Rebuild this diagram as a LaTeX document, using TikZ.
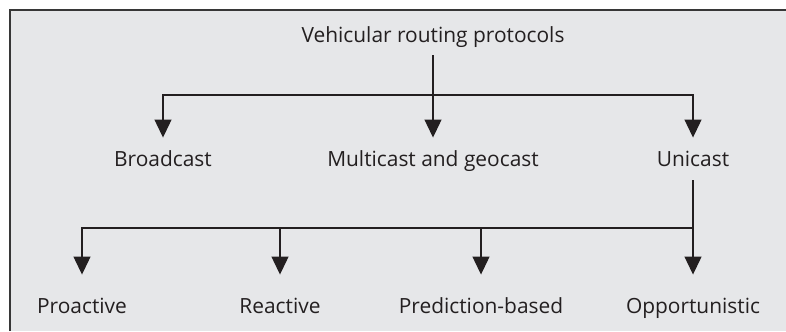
\documentclass[tikz,border=0pt]{standalone}
\usepackage{fontspec}
\setmainfont{Open Sans}
\definecolor{LineColor}{RGB}{35,31,32}
\definecolor{BoxColor}{RGB}{230,231,233}
\definecolor{FrameColor}{RGB}{55,55,55}
\usetikzlibrary{arrows.meta}
\tikzstyle{arrow} = [line width=0.7pt, LineColor, -{Triangle[width=0.34cm,length=0.36cm]}]
\tikzstyle{class} = [inner xsep=0pt, inner ysep=8pt, text height=8pt, text depth=0pt, anchor=base, text=LineColor, font=\fontsize{11.9}{14}\selectfont]

\begin{document}
\begin{tikzpicture}[x=0.02cm, y=-0.02cm]
                % Frame
                \useasboundingbox (0,0) rectangle (786,331);
                \fill[BoxColor] (10,10) rectangle (786,331);
                \draw[FrameColor, line width=0.6pt] (10,331) -- (10,10) -- (786,10);

                % Root
                \node[class, inner ysep=6.8pt] (root) at (433,43) {Vehicular routing protocols};

                % First level
                \node[class] (broadcast) at (163,166) {Broadcast};
                \node[class] (geocast) at (433,166) {Multicast and geocast};
                \node[class] (unicast) at (693,166) {Unicast};
                \coordinate (split) at (433,95);
                \draw[arrow] (root) -- (geocast);
                \draw[arrow] (split) -| (broadcast);
                \draw[arrow] (split) -| (unicast);

                % Unicast protocols
                \node[class] (proactive) at (82,313) {Proactive};
                \node[class] (reactive) at (280,313) {Reactive};
                \node[class] (prediction) at (481,313) {Prediction-based};
                \node[class] (opportunistic) at (693,313) {Opportunistic};
                \coordinate (split2) at (693,228);
                \draw[arrow, shorten >=0.2cm] (unicast) -- (opportunistic);
                \draw[arrow, shorten >=0.2cm] (split2) -| (proactive);
                \draw[arrow, shorten >=0.2cm] (split2) -| (reactive);
                \draw[arrow, shorten >=0.2cm] (split2) -| (prediction);
\end{tikzpicture}
\end{document}
